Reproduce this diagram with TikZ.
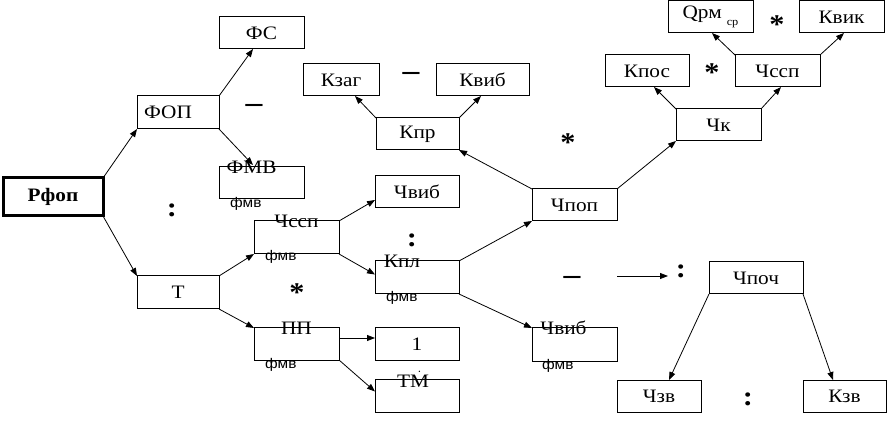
\documentclass[tikz,border=0pt]{standalone}
\usepackage{fontspec}
\setmainfont[FakeStretch=1.12]{Liberation Serif}
\newfontfamily\smallsans[FakeStretch=1.1]{Liberation Sans}
\usetikzlibrary{arrows.meta,calc}

\begin{document}
\begin{tikzpicture}[
            x=1pt, y=-1pt,
            outer sep=0pt,
            box/.style={
                draw=black, line width=1pt, minimum width=85pt, minimum height=32pt, inner sep=0pt, font=\fontsize{19}{21}\selectfont, anchor=center
            },
            toplbl/.style={
                inner sep=0pt, font=\fontsize{19}{21}\selectfont, anchor=center
            },
            fmv/.style={
                inner sep=0pt, font=\smallsans\fontsize{14}{15}\selectfont, anchor=west
            },
            arr/.style={
                -{Triangle[length=8pt,width=6pt]}, line width=0.8pt
            },
            op/.style={
                inner sep=0pt, font=\bfseries\fontsize{27}{27}\selectfont
            },
            minus/.style={
                inner sep=0pt, font=\bfseries\fontsize{30}{30}\selectfont
            }
        ]
            \useasboundingbox (0,0) rectangle (887,422);

            % LEFT PART
            \node[box, minimum width=100pt, minimum height=38pt, line width=3pt, font=\bfseries\fontsize{19}{21}\selectfont] (rfop) at (53,197) {Рфоп};
            \node[box, minimum width=82pt, minimum height=33pt] (fop) at (178,112.5) {\hspace*{-20pt}ФОП};
            \node[box, minimum width=82pt, minimum height=33pt] (t) at (178,292.5) {Т};
            \node[box] (fs) at (261.5,33) {ФС};
            \node[box] (fmv) at (261.5,183) {};
            \node[toplbl] (fmvlbl) at ([xshift=-10pt]fmv.north) {ФМВ};
            \node[fmv] (fmvsub) at ([xshift=11pt,yshift=-5pt]fmv.south west) {фмв};

            \node[box, minimum height=33pt] (chssp1) at (296.5,237.5) {};
            \node[toplbl] (chssp1lbl) at (chssp1.north) {Чссп};
            \node[fmv] (chssp1sub) at ([xshift=11pt,yshift=-3pt]chssp1.south west) {фмв};
            \node[box] (pp) at (296.5,344) {};
            \node[toplbl] (pplbl) at (pp.north) {ПП};
            \node[fmv] (ppsub) at ([xshift=11pt,yshift=-5pt]pp.south west) {фмв};

            \node[box, minimum width=84pt] (chvib1) at (417,192) {Чвиб};
            \node[box, minimum width=84pt, minimum height=33pt] (kpl) at (417,277.5) {};
            \node[toplbl] (kpllbl) at ([xshift=-15pt]kpl.north) {Кпл};
            \node[fmv] (kplsub) at ([xshift=11pt,yshift=-4pt]kpl.south west) {фмв};
            \node[box, minimum width=84pt] (one) at (417,344) {1};
            \node[box, minimum width=84pt, minimum height=33pt] (tm) at (417,395.5) {};
            \node[toplbl] (tmlbl) at ([xshift=-4pt]tm.north) {Т$\dot{\mbox{М}}$};

            % MIDDLE PART
            \node[box, minimum width=76pt] (kzag) at (341,80) {Кзаг};
            \node[box, minimum width=93pt] (kvib) at (482.5,80) {Квиб};
            \node[box, minimum width=83pt] (kpr) at (417.5,134) {Кпр};
            \node[box] (chpop) at (574.5,205) {Чпоп};
            \node[box, minimum height=33pt] (chvib2) at (574.5,344.5) {};
            \node[toplbl] (chvib2lbl) at ([xshift=-11pt]chvib2.north) {Чвиб};
            \node[fmv] (chvib2sub) at ([xshift=10pt,yshift=-5pt]chvib2.south west) {фмв};

            % RIGHT PART
            \node[box] (chk) at (718.5,125) {Чк};
            \node[box, minimum width=84pt] (kpos) at (647,71) {Кпос};
            \node[box] (chssp2) at (777.5,71) {Чссп};
            \node[box] (qrm) at (710.5,17) {Qрм\hspace{5pt}\raisebox{-7pt}{\fontsize{11}{11}\selectfont ср}};
            \node[box] (kvik) at (841.5,17) {Квик};
            \node[box, minimum width=94pt] (chpoch) at (756,278) {Чпоч};
            \node[box, minimum width=84pt] (chzv) at (659,396) {Чзв};
            \node[box, minimum width=83pt] (kzv) at (844.5,396) {Кзв};

            % OPERATION SIGNS
            \node[minus] (m1) at (254,108) {–};
            \node[op] (c1) at (172,210) {:};
            \node[op] (s1) at (297,293) {*};
            \node[op] (c2) at (412,240) {:};
            \node[minus] (m2) at (411,76) {–};
            \node[op] (s2) at (568,143) {*};
            \node[op] (s3) at (712,73) {*};
            \node[op] (s4) at (777,25) {*};
            \node[minus] (m3) at (572,280) {–};
            \node[op] (c3) at (681,271) {:};
            \node[op] (c4) at (748,399) {:};

            % ARROWS
            \draw[arr] (rfop.north east) -- (fop.south west);
            \draw[arr] (rfop.south east) -- (t.north west);
            \draw[arr] (fop.north east) -- ([xshift=-8.5pt]fs.south);
            \draw[arr] (fop.south east) -- ([xshift=-8.5pt,yshift=2pt]fmv.north);
            \draw[arr] (t.north east) -- (chssp1.south west);
            \draw[arr] (t.south east) -- (pp.north west);
            \draw[arr] (chssp1.north east) -- ([yshift=-8pt]chvib1.west);
            \draw[arr] (chssp1.south east) -- ([yshift=3pt]kpl.west);
            \draw[arr] ([yshift=6pt]pp.east) -- ([yshift=6pt]one.west);
            \draw[arr] (pp.south east) -- ([yshift=4pt]tm.west);
            \draw[arr] (kpl.north east) -- (chpop.south west);
            \draw[arr] (kpl.south east) -- (chvib2.north west);
            \draw[arr] (chpop.north west) -- (kpr.south east);
            \draw[arr] (kpr.north west) -- ([xshift=14pt]kzag.south);
            \draw[arr] (kpr.north east) -- ([xshift=-1.5pt]kvib.south);
            \draw[arr] (chpop.north east) -- (chk.south west);
            \draw[arr] (chk.north west) -- ([xshift=7pt]kpos.south);
            \draw[arr] (chk.north east) -- ([xshift=3.5pt]chssp2.south);
            \draw[arr] (chssp2.north west) -- ([xshift=1.5pt]qrm.south);
            \draw[arr] (chssp2.north east) -- ([xshift=2.5pt]kvik.south);
            \coordinate (fa) at (617,276);
            \coordinate (fb) at (668,276);
            \draw[arr] (fa) -- (fb);
            \draw[arr] (chpoch.south west) -- ([xshift=10pt]chzv.north);
            \draw[arr] (chpoch.south east) -- ([xshift=-11.5pt]kzv.north);

        \end{tikzpicture}
\end{document}
